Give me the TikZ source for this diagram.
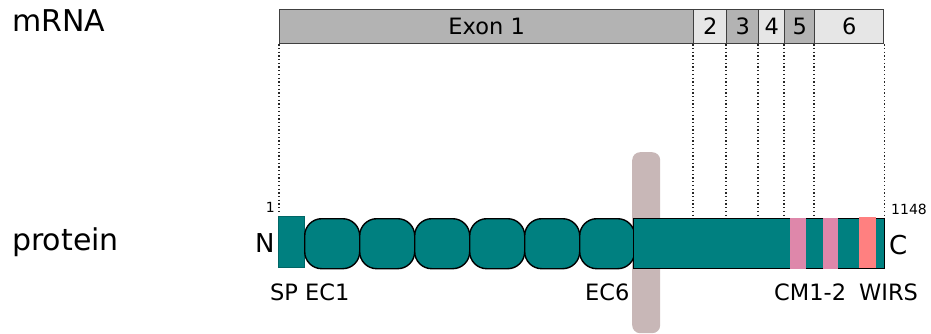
\documentclass[tikz,border=0pt]{standalone}
\usepackage{fontspec}
\setmainfont{DejaVu Sans}
\definecolor{exdark}{HTML}{B3B3B3}
\definecolor{exlight}{HTML}{E6E6E6}
\definecolor{exline}{HTML}{404040}
\definecolor{protteal}{HTML}{008080}
\definecolor{tmgrey}{HTML}{C8B7B7}
\definecolor{cmpink}{HTML}{DE87AA}
\definecolor{wirsred}{HTML}{FF8080}
\begin{document}
\begin{tikzpicture}[x=1pt,y=-1pt,
  exon/.style={draw=exline, line width=1.3pt, anchor=north west, minimum height=34pt, inner sep=0pt, font=\fontsize{22.5}{22.5}\selectfont},
  dotline/.style={line width=1.3pt, black!85, dash pattern=on 1.3pt off 2.4pt},
  ecdom/.style={draw=black, line width=1.4pt, fill=protteal, rounded corners=17pt, minimum width=55pt, minimum height=50pt, anchor=north west, inner sep=0pt},
  motif/.style={anchor=north west, inner sep=0pt, minimum height=51pt},
  lbl/.style={anchor=base west, inner sep=0pt, font=\fontsize{22.5}{22.5}\selectfont},
  big/.style={anchor=base west, inner sep=0pt, font=\fontsize{30}{30}\selectfont},
  term/.style={inner sep=0pt, font=\fontsize{26}{26}\selectfont},
  num/.style={inner sep=0pt, font=\fontsize{14}{14}\selectfont}
]
\useasboundingbox (0,0) rectangle (931,334);
% side titles
\node[big] (mrna) at (12,32) {mRNA};
\node[big] (prot) at (12,250) {protein};
% exons
\node[exon, fill=exdark, minimum width=414pt] (ex1) at (279,9) {Exon 1};
\node[exon, fill=exlight, minimum width=33pt] (ex2) at (693,9) {2};
\node[exon, fill=exdark, minimum width=32pt] (ex3) at (726,9) {3};
\node[exon, fill=exlight, minimum width=26pt] (ex4) at (758,9) {4};
\node[exon, fill=exdark, minimum width=30pt] (ex5) at (784,9) {5};
\node[exon, fill=exlight, minimum width=69pt] (ex6) at (814,9) {6};
% transmembrane
\node[fill=tmgrey, rounded corners=8pt, minimum width=28pt, minimum height=181pt, anchor=north west, inner sep=0pt] (tm) at (632,152) {};
% protein
\node[fill=protteal, draw=protteal!80!black, line width=0.6pt, minimum width=26pt, minimum height=51pt, anchor=north west, inner sep=0pt] (sp) at (278,216) {};
\node[ecdom] (ec1) at (304,218) {};
\node[ecdom] (ec2) at (359,218) {};
\node[ecdom] (ec3) at (414,218) {};
\node[ecdom] (ec4) at (469,218) {};
\node[ecdom] (ec5) at (524,218) {};
\node[ecdom] (ec6) at (579,218) {};
\node[draw=black, line width=1.4pt, fill=protteal, minimum width=251pt, minimum height=50pt, anchor=north west, inner sep=0pt] (ic) at (633,218) {};
\node[motif, fill=cmpink, minimum width=16pt] (cm1) at (790,217.5) {};
\node[motif, fill=cmpink, minimum width=15pt] (cm2) at (823,217.5) {};
\node[motif, fill=wirsred, minimum width=17pt] (wirs) at (859,217) {};
% dotted projections
\coordinate (top1) at (279,213);
\draw[dotline] (ex1.south west) -- (top1);
\draw[dotline] (ex2.south west) -- (ex2.south west |- ic.north);
\draw[dotline] (ex3.south west) -- (ex3.south west |- ic.north);
\draw[dotline] (ex4.south west) -- (ex4.south west |- ic.north);
\draw[dotline] (ex5.south west) -- (ex5.south west |- ic.north);
\draw[dotline] (ex6.south west) -- (ex6.south west |- ic.north);
\draw[dotline] (ex6.south east) -- (ex6.south east |- ic.north);
% numbers and termini
\node[num, anchor=base east] (n1) at (275,212) {1};
\node[num, anchor=base west] (n1148) at (891,214) {1148};
\node[term, anchor=base west] (nterm) at (255,252) {N};
\node[term, anchor=base west] (cterm) at (889,254) {C};
% domain labels
\node[lbl] (lsp) at (270,300) {SP EC1};
\node[lbl] (lec6) at (585,300) {EC6};
\node[lbl] (lcm) at (774,300) {CM1-2};
\node[lbl] (lwirs) at (859,300) {WIRS};
\end{tikzpicture}
\end{document}
